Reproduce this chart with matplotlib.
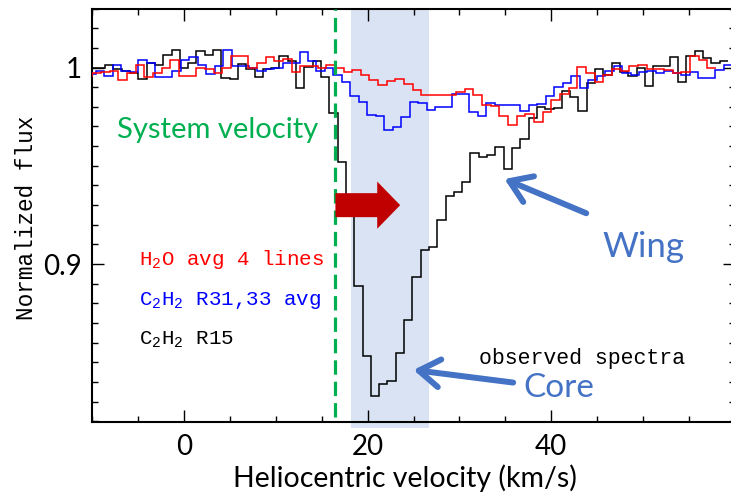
import numpy as np
import matplotlib
matplotlib.use('Agg')
import matplotlib.pyplot as plt
from matplotlib.ticker import MultipleLocator, FixedLocator, FuncFormatter
from matplotlib.patches import FancyArrow

plt.rcParams['mathtext.fontset'] = 'custom'
plt.rcParams['mathtext.rm'] = 'Liberation Mono'
plt.rcParams['mathtext.it'] = 'Liberation Mono'

SANS = 'Lato'
MONO = 'Liberation Mono'

# --- data: step spectra (flux per velocity bin) ---
# C2H2 R15 (black), bins start at -10.38 km/s, width 0.904 km/s
c2h2_r15_v0, c2h2_r15_dv = -10.38, 0.904
c2h2_r15 = [0.9997, 0.9997, 1.0014, 0.9994, 0.9980, 0.9972, 0.9940, 1.0023,
            1.0011, 1.0062, 1.0089, 0.9997, 1.0023, 1.0082, 1.0065, 1.0087,
            0.9948, 0.9941, 1.0020, 0.9993, 0.9951, 0.9990, 1.0000, 1.0057,
            1.0031, 0.9897, 1.0002, 1.0033, 0.9950, 0.9770, 0.9520, 0.9300,
            0.8890, 0.8535, 0.8330, 0.8390, 0.8407, 0.8550, 0.8717, 0.8934,
            0.9074, 0.9087, 0.9223, 0.9347, 0.9365, 0.9416, 0.9564, 0.9547,
            0.9555, 0.9597, 0.9484, 0.9589, 0.9637, 0.9742, 0.9797, 0.9790,
            0.9793, 0.9880, 0.9850, 0.9781, 0.9921, 0.9990, 0.9960, 1.0025,
            0.9975, 0.9955, 0.9997, 0.9906, 1.0006, 1.0008, 1.0055, 0.9924,
            1.0060, 1.0086, 1.0050, 1.0023, 1.0035]

# H2O average of 4 lines (red)
h2o_v0, h2o_dv = -10.91, 0.943
h2o = [0.9955, 0.9972, 0.9977, 0.9980, 0.9938, 0.9972, 1.0011, 0.9950,
       0.9972, 0.9997, 1.0040, 0.9955, 0.9955, 0.9997, 0.9994, 0.9972,
       0.9997, 1.0057, 1.0057, 0.9997, 1.0023, 1.0052, 1.0035, 1.0045,
       0.9977, 1.0006, 1.0006, 0.9997, 1.0011, 0.9997, 0.9977, 0.9989,
       0.9963, 0.9938, 0.9909, 0.9929, 0.9943, 0.9918, 0.9887, 0.9858,
       0.9861, 0.9861, 0.9861, 0.9875, 0.9892, 0.9861, 0.9810, 0.9805,
       0.9754, 0.9708, 0.9754, 0.9764, 0.9722, 0.9775, 0.9835, 0.9865,
       0.9895, 1.0003, 0.9970, 0.9926, 0.9963, 0.9990, 0.9984, 1.0010,
       1.0011, 0.9990, 0.9992, 0.9985, 0.9972, 0.9975, 1.0057, 1.0040,
       0.9997]

# C2H2 R31,33 average (blue)
c2h2_r31_v0, c2h2_r31_dv = -10.51, 0.924
c2h2_r31 = [0.9967, 0.9984, 0.9955, 1.0011, 0.9984, 0.9977, 1.0040, 1.0023,
            0.9950, 0.9950, 0.9980, 1.0040, 1.0052, 1.0014, 0.9967, 1.0006,
            1.0087, 1.0006, 1.0006, 0.9997, 0.9982, 0.9993, 0.9997, 1.0023,
            1.0023, 1.0077, 1.0031, 0.9980, 0.9997, 0.9963, 0.9925, 0.9853,
            0.9823, 0.9756, 0.9751, 0.9683, 0.9695, 0.9748, 0.9827, 0.9819,
            0.9785, 0.9797, 0.9797, 0.9865, 0.9865, 0.9776, 0.9751, 0.9819,
            0.9807, 0.9807, 0.9807, 0.9780, 0.9807, 0.9816, 0.9855, 0.9902,
            0.9921, 0.9955, 0.9895, 0.9938, 0.9958, 0.9980, 1.0006, 0.9972,
            0.9963, 0.9975, 0.9980, 0.9972, 0.9980, 0.9972, 0.9963, 0.9975,
            0.9946, 0.9946, 0.9985, 1.0014]

system_velocity = 16.5
core_range = (18.2, 26.7)
xtick_labels = [0, 20, 40]


def edges(v0, dv, n):
    return v0 + dv * np.arange(n + 1)


fig = plt.figure(figsize=(7.31, 4.94), dpi=100)
W, H = 731, 494
ax = fig.add_axes([92 / W, (H - 421.5) / H, (735 - 92) / W, (421.5 - 8.5) / H])

ax.set_xlim(-10, 60)
ax.set_ylim(0.82, 1.03)

# shaded core region (runs a little below the axis)
ax.axvspan(*core_range, ymin=-0.016, ymax=1, color='#dae3f3', lw=0,
           zorder=0, clip_on=False)

ax.stairs(c2h2_r15, edges(c2h2_r15_v0, c2h2_r15_dv, len(c2h2_r15)),
          baseline=None, color='black', lw=1.1, zorder=3)
ax.stairs(c2h2_r31, edges(c2h2_r31_v0, c2h2_r31_dv, len(c2h2_r31)),
          baseline=None, color='#0000ff', lw=1.1, zorder=4)
ax.stairs(h2o, edges(h2o_v0, h2o_dv, len(h2o)),
          baseline=None, color='#ff0000', lw=1.1, zorder=5)

ax.axvline(system_velocity, ymin=0.01, color='#00b050', lw=2.3,
           dashes=(4.5, 2.2), zorder=6)

# red arrow (shift to red)
ax.add_patch(FancyArrow(16.5, 0.930, 7.05, 0, width=0.0122, head_width=0.024,
                        head_length=2.5, length_includes_head=True,
                        color='#c00000', lw=0, zorder=7))

blue = '#4472c4'
arrow_kw = dict(arrowstyle='->,head_length=0.75,head_width=0.5', lw=4.3,
                color=blue, mutation_scale=20, shrinkA=0, shrinkB=0)
ax.annotate('', xy=(34.9, 0.9433), xytext=(43.8, 0.9259),
            arrowprops=arrow_kw, zorder=8)
ax.annotate('', xy=(25.0, 0.8462), xytext=(35.85, 0.8398),
            arrowprops=arrow_kw, zorder=8)

ax.text(3.65, 0.9683, 'System velocity', color='#00b050', family=SANS,
        fontsize=21, ha='center', va='center')
ax.text(50.05, 0.9036, 'Wing', color=blue, family=SANS, fontsize=25,
        ha='center', va='baseline')
ax.text(40.8, 0.8326, 'Core', color=blue, family=SANS, fontsize=24,
        ha='center', va='baseline')
ax.text(43.3, 0.8492, 'observed spectra', color='black', family=MONO,
        fontsize=15.5, ha='center', va='baseline')

ax.text(-4.84, 0.8994, r'H$_2$O avg 4 lines', color='#ff0000', family=MONO,
        fontsize=15, va='baseline')
ax.text(-4.84, 0.8790, r'C$_2$H$_2$ R31,33 avg', color='#0000ff', family=MONO,
        fontsize=15, va='baseline')
ax.text(-4.84, 0.8591, r'C$_2$H$_2$ R15', color='black', family=MONO,
        fontsize=15, va='baseline')

# axes styling
for s in ax.spines.values():
    s.set_linewidth(1.5)
ax.xaxis.set_major_locator(FixedLocator(xtick_labels))
ax.xaxis.set_minor_locator(MultipleLocator(5))
ax.yaxis.set_major_locator(FixedLocator([0.9, 1.0]))
ax.yaxis.set_minor_locator(MultipleLocator(0.01))
ax.yaxis.set_major_formatter(FuncFormatter(lambda v, p: '%g' % round(v, 2)))
ax.tick_params(which='both', direction='in', top=True, right=True, width=1)
ax.tick_params(which='major', length=8.6)
ax.tick_params(which='minor', length=4)
ax.tick_params(axis='x', pad=9)
ax.tick_params(axis='y', pad=7)
for lab in ax.get_xticklabels() + ax.get_yticklabels():
    lab.set_family(SANS)
    lab.set_fontsize(20)

fig.text(405 / W, 1 - 486.7 / H, 'Heliocentric velocity (km/s)', family=SANS,
         fontsize=20.5, ha='center', va='baseline')
fig.text(27 / W, 1 - 217.5 / H, 'Normalized flux', family=MONO,
         fontsize=16.4, rotation=90, ha='center', va='center')

fig.savefig('out.png', dpi=100)
